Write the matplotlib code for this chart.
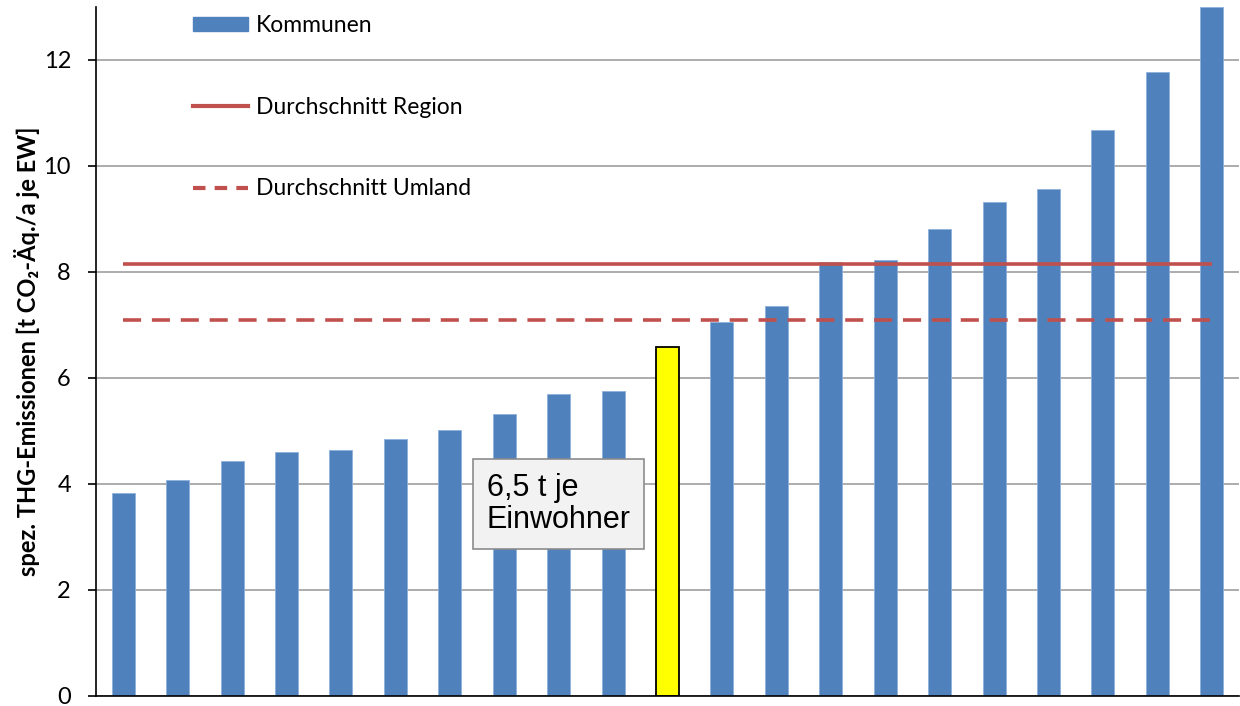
import matplotlib
matplotlib.use("Agg")
import matplotlib.pyplot as plt
from matplotlib.patches import Patch
from matplotlib.lines import Line2D
import numpy as np

values = [3.83, 4.08, 4.43, 4.60, 4.64, 4.85, 5.02, 5.32, 5.70, 5.75, 6.58,
          7.06, 7.36, 8.19, 8.23, 8.81, 9.32, 9.57, 10.68, 11.77, 13.0]
highlight_index = 10
region_avg = 8.15
umland_avg = 7.10
yticks = [0, 2, 4, 6, 8, 10, 12]
labels = ["Kommunen", "Durchschnitt Region", "Durchschnitt Umland"]
annotation = "6,5 t je\nEinwohner"
ylabel = "spez. THG-Emissionen [t CO₂-Äq./a je EW]"

plt.rcParams['font.family'] = ['Lato', 'DejaVu Sans']

fig = plt.figure(figsize=(12.4, 7.06), dpi=100)
ax = fig.add_axes([96/1240, 10/706, 1 - 96/1240 - 1/1240, 1 - 10/706 - 7/706])

x = np.arange(len(values))
blue = "#4F81BD"
red = "#C0504D"
colors = [blue] * len(values)
colors[highlight_index] = "#FFFF00"
edges = ["#8EB0DB"] * len(values)
edges[highlight_index] = "black"
lws = [0.6] * len(values)
lws[highlight_index] = 1.3
ax.bar(x, values, width=0.42, color=colors, edgecolor=edges, linewidth=lws, zorder=2)

ax.plot(x, [region_avg] * len(x), color=red, lw=2.6, zorder=3, solid_capstyle='butt')
ax.plot(x, [umland_avg] * len(x), color=red, lw=2.6, ls=(0, (5, 3)), zorder=3)

ax.set_xlim(-0.5, len(values) - 0.5)
ax.set_ylim(0, 13)
ax.set_yticks(yticks)
ax.set_xticks([])
ax.yaxis.grid(True, color="#A6A6A6", lw=1.3, zorder=0)
ax.set_axisbelow(True)
for s in ["top", "right"]:
    ax.spines[s].set_visible(False)
ax.spines["left"].set_linewidth(1.2)
ax.spines["bottom"].set_linewidth(1.2)
ax.tick_params(axis='y', direction='out', length=6, width=1.2, labelsize=17, pad=12)
ax.set_ylabel(ylabel, fontsize=17, fontweight='bold')
ax.yaxis.set_label_coords(-0.049, 0.5)

handles = [Patch(facecolor=blue, edgecolor=blue),
           Line2D([0], [0], color=red, lw=3),
           Line2D([0], [0], color=red, lw=3, ls=(0, (3, 2.2)))]
leg = ax.legend(handles, labels, loc='upper left', bbox_to_anchor=(0.084, 0.99),
                frameon=False, fontsize=16.5, labelspacing=2.65, handlelength=2.4,
                handleheight=0.6, handletextpad=0.35, borderaxespad=0, borderpad=0.05)

ax.text(8.0, 3.62, annotation, fontsize=22, family=['Liberation Sans', 'DejaVu Sans'],
        ha='center', va='center', multialignment='left', zorder=5, linespacing=1.1,
        bbox=dict(boxstyle='square,pad=0.45', facecolor='#F2F2F2', edgecolor='#8C8C8C', lw=1.2))

fig.savefig("out.png", dpi=100)
